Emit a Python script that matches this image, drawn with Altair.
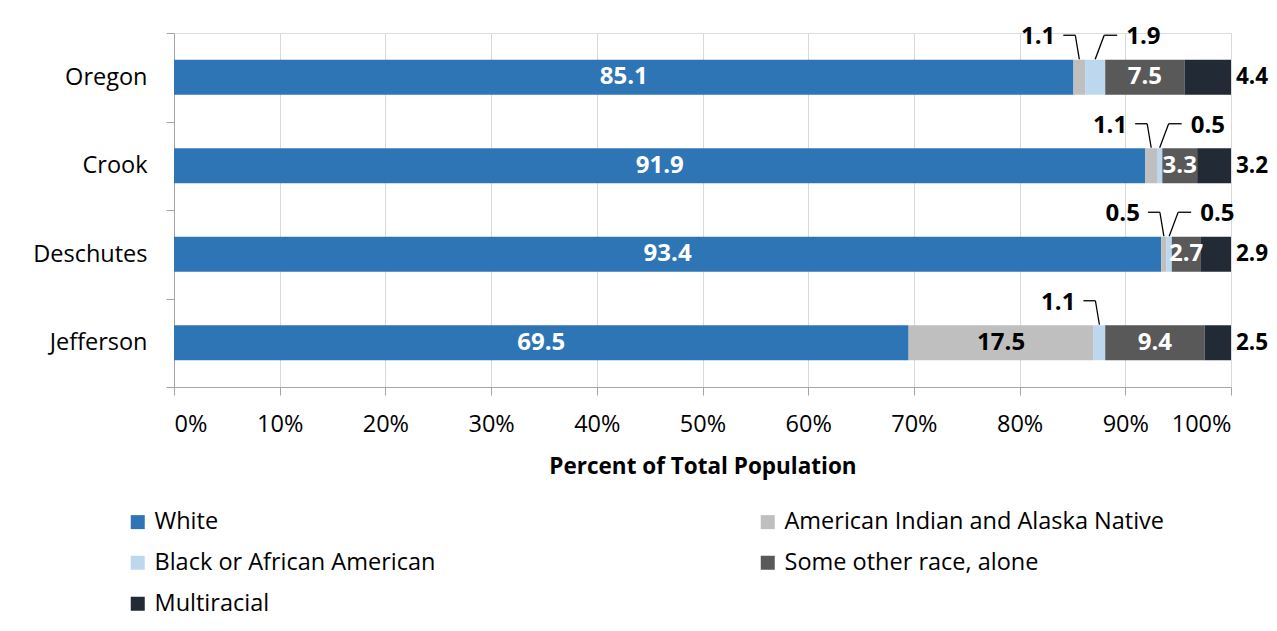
import altair as alt
import pandas as pd

counties = ["Oregon", "Crook", "Deschutes", "Jefferson"]
races = ["White", "American Indian and Alaska Native", "Black or African American",
         "Some other race, alone", "Multiracial"]
white = [85.1, 91.9, 93.4, 69.5]
aian = [1.1, 1.1, 0.5, 17.5]
black = [1.9, 0.5, 0.5, 1.1]
other = [7.5, 3.3, 2.7, 9.4]
multi = [4.4, 3.2, 2.9, 2.5]
colors = ["#2E75B6", "#BFBFBF", "#BDD7EE", "#595959", "#222A35"]
x_ticks = [0, 10, 20, 30, 40, 50, 60, 70, 80, 90, 100]

series = [white, aian, black, other, multi]
rows = []
for ci, c in enumerate(counties):
    start = 0.0
    small_rank = 0
    for ri, r in enumerate(races):
        v = series[ri][ci]
        end = start + v
        if ri == 4:
            kind = "outside"
        elif ri in (1, 2) and v < 2:
            kind = "left" if small_rank == 0 else "right"
            small_rank += 1
        else:
            kind = "inside"
        rows.append({
            "county": c, "race": r, "order": ri, "value": v,
            "start": start, "end": end, "mid": (start + end) / 2,
            "label": f"{v:.1f}", "kind": kind,
            "tcolor": "#000000" if ri == 1 else "#FFFFFF",
        })
        start = end
df = pd.DataFrame(rows)

FONT = "Open Sans"
TITLE = "Percent of Total Population"
xscale = alt.Scale(domain=[0, 100], nice=False)
xaxis = alt.Axis(values=x_ticks, labelExpr="datum.value + '%'", grid=True,
                 gridColor="#D9D9D9", domainColor="#A6A6A6", tickColor="#A6A6A6",
                 tickSize=8, labelFontSize=23.5, labelFont=FONT, labelColor="#000000",
                 labelPadding=17, title=TITLE,
                 titleFont=FONT, titleFontSize=22.5, titleFontWeight="bold",
                 titleColor="#000000", titlePadding=20)
yscale = alt.Scale(domain=counties, paddingInner=0, paddingOuter=0)
yaxis = alt.Axis(title=None, tickBand="extent", grid=False, domainColor="#A6A6A6",
                 tickColor="#A6A6A6", tickSize=8, labelFontSize=23.5, labelFont=FONT,
                 labelColor="#000000", labelPadding=19)

base = alt.Chart(df)
Y = alt.Y("county:N", sort=counties, scale=yscale, axis=yaxis)

bars = base.mark_bar(size=35).encode(
    x=alt.X("start:Q", scale=xscale, axis=xaxis, title=TITLE),
    x2="end:Q",
    y=Y,
    color=alt.Color("race:N", scale=alt.Scale(domain=races, range=colors),
                    legend=alt.Legend(title=None, orient="none", direction="horizontal",
                                      legendX=-48, legendY=477,
                                      columns=2, columnPadding=320, rowPadding=16,
                                      symbolType="square", symbolSize=196,
                                      symbolStrokeWidth=0, labelFontSize=23.5,
                                      labelFont=FONT, labelColor="#000000",
                                      labelLimit=0, labelOffset=5, padding=0)),
    order="order:Q",
)

txt_style = dict(font=FONT, fontSize=24, fontWeight="bold")

inside = base.transform_filter("datum.kind == 'inside'").mark_text(
    baseline="middle", **txt_style).encode(
    x=alt.X("mid:Q", scale=xscale, axis=xaxis, title=TITLE), y=Y, text="label:N",
    color=alt.Color("tcolor:N", scale=None))

outside = base.transform_filter("datum.kind == 'outside'").mark_text(
    align="left", baseline="middle", dx=5, color="#000000",
    font=FONT, fontSize=22.5, fontWeight="bold").encode(
    x=alt.X("end:Q", scale=xscale, axis=xaxis, title=TITLE), y=Y, text="label:N")

left_txt = base.transform_filter("datum.kind == 'left'").mark_text(
    align="right", baseline="middle", dx=-24, dy=-40, color="#000000", **txt_style).encode(
    x=alt.X("mid:Q", scale=xscale, axis=xaxis, title=TITLE), y=Y, text="label:N")
right_txt = base.transform_filter("datum.kind == 'right'").mark_text(
    align="left", baseline="middle", dx=31, dy=-40, color="#000000", **txt_style).encode(
    x=alt.X("mid:Q", scale=xscale, axis=xaxis, title=TITLE), y=Y, text="label:N")

def leader(kind, xo, x2o, yo, y2o):
    return base.transform_filter(f"datum.kind == '{kind}'").mark_rule(
        color="#000000", strokeWidth=1.3, xOffset=xo, x2Offset=x2o,
        yOffset=yo, y2Offset=y2o).encode(
        x=alt.X("mid:Q", scale=xscale, axis=xaxis, title=TITLE), x2="mid:Q",
        y=Y, y2="county:N")

layers = [bars, inside, outside, left_txt, right_txt,
          leader("left", -16, -4, -42, -42), leader("left", -4, 0, -42, -18),
          leader("right", 0, 9, -18, -42), leader("right", 9, 22, -42, -42)]

chart = alt.layer(*layers).properties(
    width=1057, height=354,
    autosize=alt.AutoSizeParams(type="none"),
    padding={"left": 166, "top": 25, "right": 38, "bottom": 230},
).configure_view(stroke=None).configure(background="white")

chart.save("out.html", embed_options={"renderer": "svg", "actions": False})
